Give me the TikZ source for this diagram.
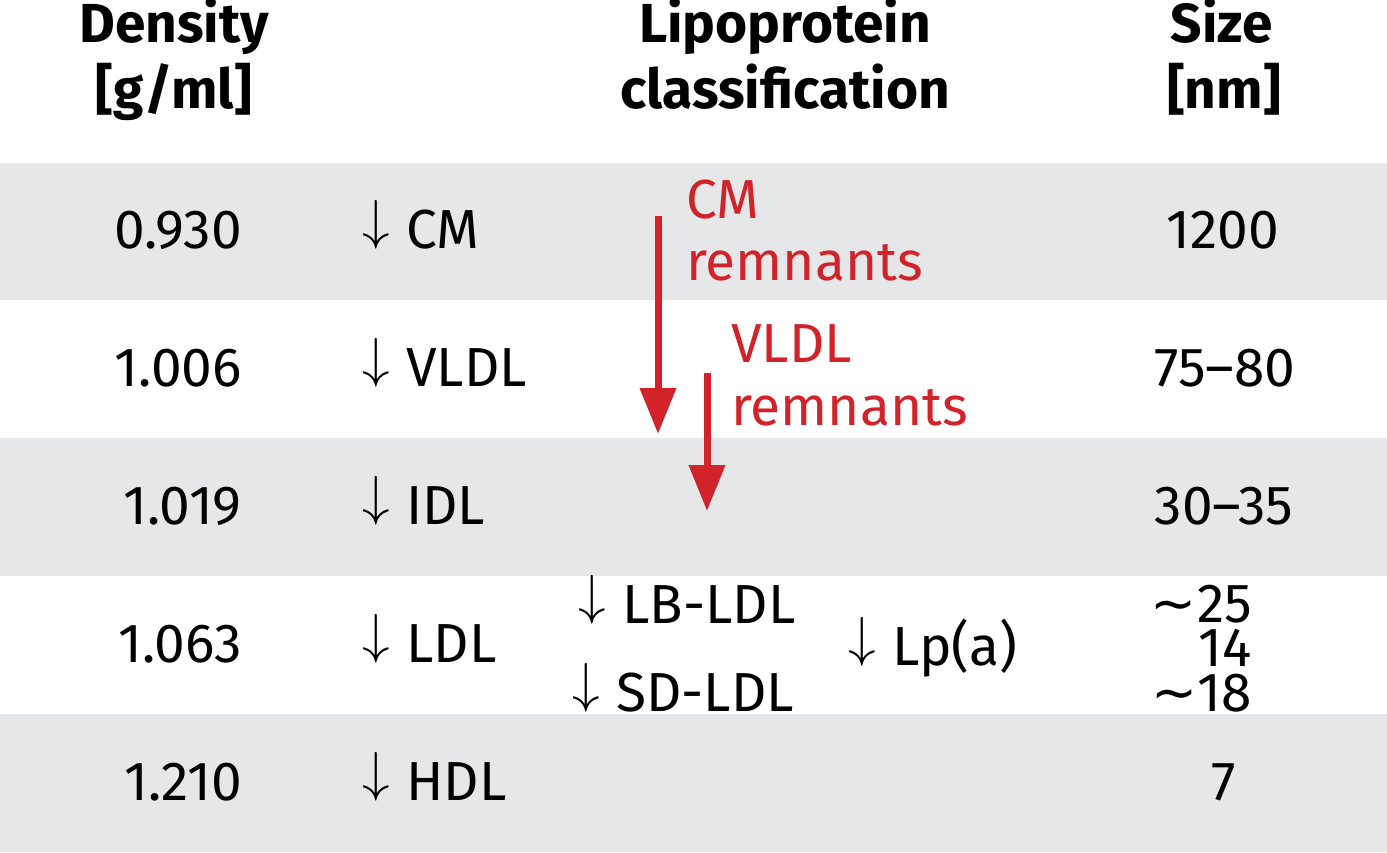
\documentclass[tikz,border=0pt]{standalone}
\usepackage{fontspec}
\usepackage{graphicx}
\setmainfont{Fira Sans}
\newfontfamily\symfont{DejaVu Sans}
\usetikzlibrary{arrows.meta}
\definecolor{band}{HTML}{E6E7E8}
\definecolor{redc}{HTML}{D2232A}
\newcommand{\dnarr}{\raisebox{10pt}{\scalebox{5.5}{\fontsize{10}{12}\selectfont$\downarrow$}}\hspace{0.3em}}
\newcommand{\approxsym}{{\symfont ∼}}
\tikzset{
  txt/.style={inner sep=0pt, font=\fontsize{55}{66}\selectfont},
  hdr/.style={inner sep=0pt, align=center, font=\fontsize{55}{66}\selectfont\bfseries},
  redtxt/.style={txt, text=redc, anchor=base west},
  redarrow/.style={draw=redc, line width=7pt, -{Triangle[width=35pt,length=46pt]}}
}
\begin{document}
\begin{tikzpicture}[x=1pt,y=-1pt]
\useasboundingbox (0,0) rectangle (1387,852);
% bands
\fill[band] (0,163) rectangle (1387,300);
\fill[band] (0,438) rectangle (1387,576);
\fill[band] (0,714) rectangle (1387,852);
% headers
\node[hdr, anchor=base] (h1a) at (174,42) {Density};
\node[hdr, anchor=base] (h1b) at (174,108) {[g/ml]};
\node[hdr, anchor=base] (h2a) at (785,42) {Lipoprotein};
\node[hdr, anchor=base] (h2b) at (785,108) {classification};
\node[hdr, anchor=base] (h3a) at (1222,42) {Size};
\node[hdr, anchor=base] (h3b) at (1224,108) {[nm]};
% densities
\node[txt, anchor=base east] (d1) at (242,248) {0.930};
\node[txt, anchor=base east] (d2) at (242,386) {1.006};
\node[txt, anchor=base east] (d3) at (242,524) {1.019};
\node[txt, anchor=base east] (d4) at (242,662) {1.063};
\node[txt, anchor=base east] (d5) at (242,800) {1.210};
% classes
\node[txt, anchor=base west] (c1) at (362,248) {\dnarr CM};
\node[txt, anchor=base west] (c2) at (362,386) {\dnarr VLDL};
\node[txt, anchor=base west] (c3) at (362,524) {\dnarr IDL};
\node[txt, anchor=base west] (c4) at (362,662) {\dnarr LDL};
\node[txt, anchor=base west] (c5) at (362,800) {\dnarr HDL};
\node[txt, anchor=base west] (lb) at (578,623) {\dnarr LB-LDL};
\node[txt, anchor=base west] (sd) at (572,711) {\dnarr SD-LDL};
\node[txt, anchor=base west] (lpa) at (848,665) {\dnarr Lp(a)};
% sizes
\node[txt, anchor=base] (s1) at (1223,248) {1200};
\node[txt, anchor=base] (s2) at (1225,386) {75–80};
\node[txt, anchor=base] (s3) at (1224,524) {30–35};
\node[inner sep=0pt, align=right, font=\fontsize{55}{44.5}\selectfont, anchor=base east] (s4) at (1252,711) {\approxsym 25\\14\\\approxsym 18};
\node[txt, anchor=base] (s5) at (1224,800) {7};
% red remnants
\node[redtxt] (cmr1) at (686,218) {CM};
\node[redtxt] (cmr2) at (686,280) {remnants};
\node[redtxt] (vr1) at (731,362) {VLDL};
\node[redtxt] (vr2) at (731,425) {remnants};
\coordinate (a1s) at (658,216);
\coordinate (a1e) at (658,434);
\coordinate (a2s) at (707,373);
\coordinate (a2e) at (707,511);
\draw[redarrow] (a1s) -- (a1e);
\draw[redarrow] (a2s) -- (a2e);
\end{tikzpicture}
\end{document}
